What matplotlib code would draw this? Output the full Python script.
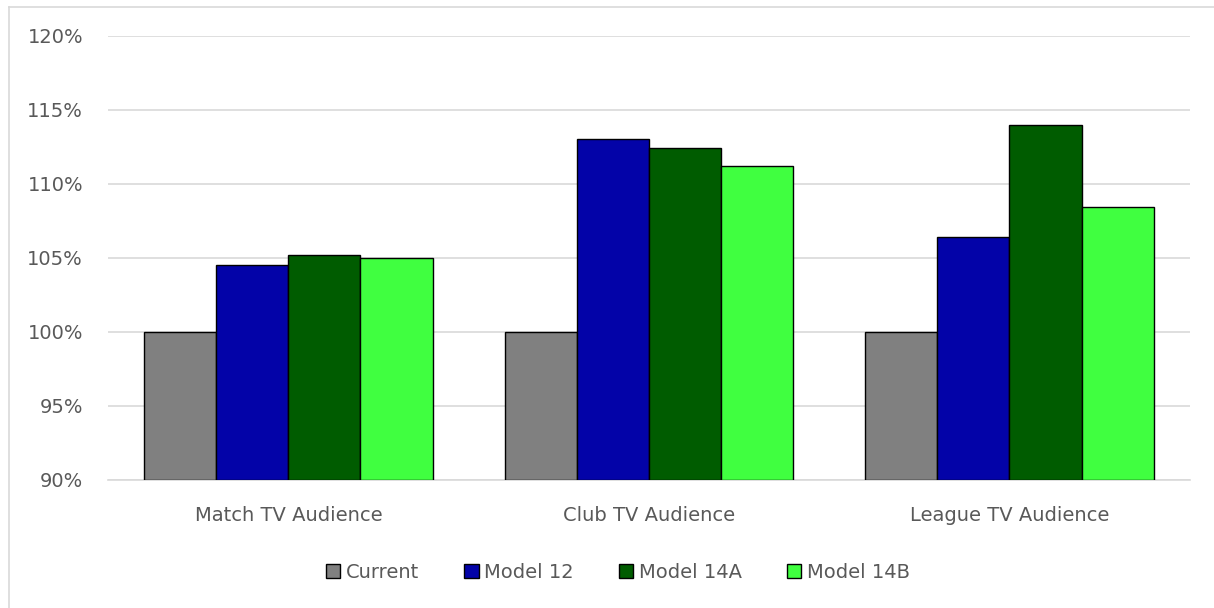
import matplotlib
matplotlib.use("Agg")
import matplotlib.pyplot as plt
from matplotlib.lines import Line2D
from matplotlib.patches import Patch
import numpy as np

categories = ["Match TV Audience", "Club TV Audience", "League TV Audience"]
series_names = ["Current", "Model 12", "Model 14A", "Model 14B"]
current = [100.0, 100.0, 100.0]
model_12 = [104.5, 113.0, 106.4]
model_14a = [105.2, 112.4, 114.0]
model_14b = [105.0, 111.2, 108.4]
y_ticks = [90, 95, 100, 105, 110, 115, 120]
y_tick_labels = ["90%", "95%", "100%", "105%", "110%", "115%", "120%"]

colors = ["#808080", "#0303A8", "#005C00", "#40FF40"]
series = [current, model_12, model_14a, model_14b]

plt.rcParams["font.family"] = ["DejaVu Sans"]
text_color = "#595959"
fs = 14

fig = plt.figure(figsize=(12.14, 6.08), dpi=100)
ax = fig.add_axes([0.089, 0.211, 0.891, 0.730])

x = np.arange(len(categories))
width = 0.2
base = 90
for i, (vals, c, name) in enumerate(zip(series, colors, series_names)):
    offs = (i - 1.5) * width
    heights = [v - base for v in vals]
    ax.bar(x + offs, heights, width, bottom=base, color=c,
           edgecolor="black", linewidth=1.0, label=name, zorder=3)

ax.set_xlim(-0.5, len(categories) - 0.5)
ax.set_ylim(90, 120)
ax.set_yticks(y_ticks)
ax.set_yticklabels(y_tick_labels)
ax.set_xticks(x)
ax.set_xticklabels(categories)
ax.yaxis.grid(True, color="#D9D9D9", linewidth=1.2, zorder=0)
ax.set_axisbelow(True)
for s in ["top", "right", "left"]:
    ax.spines[s].set_visible(False)
ax.spines["bottom"].set_color("#D9D9D9")
ax.spines["bottom"].set_linewidth(1.2)
ax.tick_params(axis="both", length=0, labelsize=fs, colors=text_color)
ax.tick_params(axis="y", pad=18)
ax.tick_params(axis="x", pad=19)

handles = [Patch(facecolor=c, edgecolor="black", linewidth=1.0) for c in colors]
fig.legend(handles, series_names, loc="center", bbox_to_anchor=(0.509, 0.059),
           ncol=4, frameon=False, fontsize=fs, labelcolor=text_color,
           handlelength=0.75, handleheight=0.75, handletextpad=0.3,
           columnspacing=2.3)

# chart frame
fig.add_artist(Line2D([0.0074, 1.0], [0.988, 0.988], transform=fig.transFigure,
                      color="#D9D9D9", linewidth=1.2))
fig.add_artist(Line2D([0.0074, 0.0074], [0.0, 0.988], transform=fig.transFigure,
                      color="#D9D9D9", linewidth=1.2))

fig.savefig("out.png", dpi=100)
